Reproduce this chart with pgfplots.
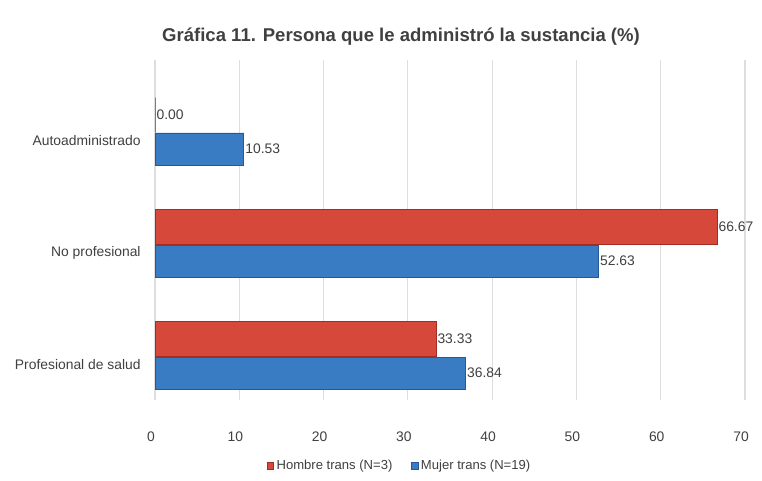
\documentclass[border=0pt]{standalone}
\usepackage{pgfplots}
\pgfplotsset{compat=1.18}
\usepackage{fontspec}
\setmainfont{Liberation Sans}

\definecolor{hombre}{RGB}{214,72,58}
\definecolor{hombreedge}{RGB}{160,45,35}
\definecolor{mujer}{RGB}{58,124,196}
\definecolor{mujeredge}{RGB}{38,88,150}
\definecolor{txt}{RGB}{64,64,64}
\definecolor{gridc}{RGB}{222,222,222}

\begin{document}
\begin{tikzpicture}
\useasboundingbox (-116.25pt,-60pt) rectangle (455.25pt,300pt);
\begin{axis}[
    at={(0,0)}, anchor=south west,
    scale only axis,
    width=442.5pt, height=255pt,
    xbar,
    xmin=0, xmax=70,
    ymin=-0.723, ymax=2.3125,
    y dir=reverse,
    xtick={0,10,...,70},
    ytick={0,1,2},
    yticklabels={Autoadministrado, No profesional, Profesional de salud},
    xmajorgrids,
    grid style={gridc, line width=0.8pt},
    axis line style={draw=none},
    tick style={draw=none},
    font=\fontsize{10.4}{12}\selectfont,
    xticklabel style={text=txt, yshift=-20pt, xshift=-3pt},
    yticklabel style={text=txt, xshift=-3pt},
    /pgf/number format/assume math mode=true,
    title={\bfseries Gráfica 11. Persona que le administró la sustancia (\%)},
    title style={at={(0.417,1.044)}, anchor=center, text=txt, font=\fontsize{13.9}{16}\selectfont},
    nodes near coords,
    nodes near coords align={horizontal},
    every node near coord/.append style={text=txt, font=\fontsize{10.4}{12}\selectfont, anchor=west, inner sep=1pt,
        /pgf/number format/.cd, fixed, fixed zerofill, precision=2, assume math mode=true},
    legend style={at={(0.415,-0.194)}, anchor=center, draw=none, legend columns=2,
        font=\fontsize{9.8}{11}\selectfont, text=txt,
        /tikz/every even column/.append style={column sep=12pt}},
    legend image code/.code={\fill[#1] (0pt,-2.5pt) rectangle (5pt,2.5pt);},
]
\addplot[fill=hombre, draw=hombreedge, bar width=26pt, bar shift=19.5pt] coordinates {
    (0.00,0) (66.67,1) (33.33,2)
};
\addlegendentry{Hombre trans (N=3)}
\addplot[fill=mujer, draw=mujeredge, bar width=24pt, bar shift=-6pt] coordinates {
    (10.53,0) (52.63,1) (36.84,2)
};
\addlegendentry{Mujer trans (N=19)}
\end{axis}
\end{tikzpicture}
\end{document}
